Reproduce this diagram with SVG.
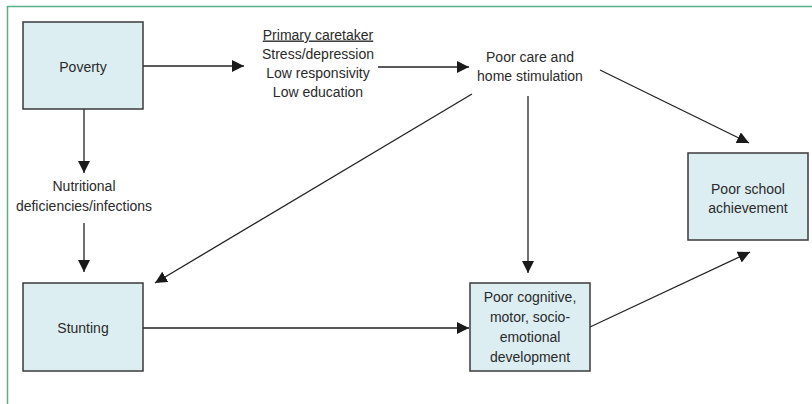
<svg xmlns="http://www.w3.org/2000/svg" width="812" height="404" viewBox="0 0 812 404">
<defs>
<style>
.box{fill:#ddeef3;stroke:#3a3a3a;stroke-width:1.5}
.t{font-family:"Liberation Sans",Arial,sans-serif;font-size:14px;fill:#2a2a2a;text-anchor:middle}
.c{stroke:#222;stroke-width:1.3;fill:none;marker-end:url(#ah)}
.frame{stroke:#5aae88;stroke-width:1.5;fill:none}
</style>
<marker id="ah" viewBox="0 0 12 12" refX="12" refY="6" markerWidth="12" markerHeight="12" markerUnits="userSpaceOnUse" orient="auto">
<path d="M0,0 L12,6 L0,12 Z" fill="#1a1a1a"/>
</marker>
</defs>
<rect width="812" height="404" fill="#fff"/>
<path class="frame" d="M7.5,404 V6.5 H812"/>
<g id="connectors">
<line class="c" x1="143" y1="66" x2="244" y2="66"/>
<line class="c" x1="378" y1="67" x2="469" y2="67"/>
<line class="c" x1="84" y1="109" x2="84" y2="173"/>
<line class="c" x1="84" y1="223" x2="84" y2="272"/>
<line class="c" x1="472" y1="94" x2="155" y2="283"/>
<line class="c" x1="528" y1="96" x2="528" y2="273"/>
<line class="c" x1="600" y1="70" x2="749" y2="143"/>
<line class="c" x1="143" y1="328" x2="469" y2="328"/>
<line class="c" x1="590" y1="327" x2="750" y2="252"/>
</g>
<g id="poverty">
<rect class="box" x="23" y="22" width="120" height="87"/>
<text class="t" x="83" y="72">Poverty</text>
</g>
<g id="caretaker">
<text class="t" x="318" y="39.5" text-decoration="underline">Primary caretaker</text>
<text class="t" x="318" y="59">Stress/depression</text>
<text class="t" x="318" y="78">Low responsivity</text>
<text class="t" x="318" y="97">Low education</text>
</g>
<g id="poorcare">
<text class="t" x="530" y="62">Poor care and</text>
<text class="t" x="530" y="81">home stimulation</text>
</g>
<g id="nutrition">
<text class="t" x="84" y="191">Nutritional</text>
<text class="t" x="84" y="211">deficiencies/infections</text>
</g>
<g id="stunting">
<rect class="box" x="23" y="283" width="120" height="88"/>
<text class="t" x="83" y="333">Stunting</text>
</g>
<g id="development">
<rect class="box" x="470" y="283" width="120" height="88"/>
<text class="t" x="530" y="301.5">Poor cognitive,</text>
<text class="t" x="530" y="321.5">motor, socio-</text>
<text class="t" x="530" y="341.5">emotional</text>
<text class="t" x="530" y="361.5">development</text>
</g>
<g id="school">
<rect class="box" x="688" y="153" width="120" height="87"/>
<text class="t" x="748" y="194">Poor school</text>
<text class="t" x="748" y="213">achievement</text>
</g>
</svg>
